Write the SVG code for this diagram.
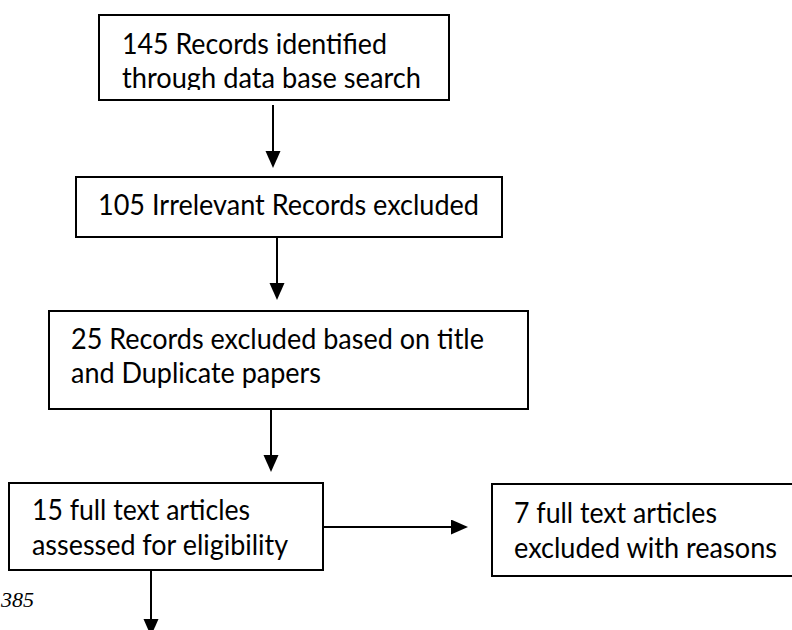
<svg xmlns="http://www.w3.org/2000/svg" width="792" height="630" viewBox="0 0 792 630">
<style>
.box{fill:#fff;stroke:#000;stroke-width:2}
.t{font-family:Lato,"Open Sans",sans-serif;font-size:28px;fill:#000}
.c{stroke:#000;stroke-width:2;fill:none}
.pg{font-family:"Liberation Serif",serif;font-style:italic;font-size:22px;fill:#000}
</style>
<defs>
<marker id="ah" markerUnits="userSpaceOnUse" markerWidth="18" markerHeight="16" refX="0" refY="7.5" orient="auto">
<path d="M0,0 L17,7.5 L0,15 z" fill="#000"/>
</marker>
<clipPath id="clip1"><rect x="99" y="15" width="350" height="75"/></clipPath>
<clipPath id="clip4"><rect x="9" y="483" width="314" height="77"/></clipPath>
</defs>
<rect width="792" height="630" fill="#fff"/>
<g id="n1">
<rect class="box" x="99" y="15" width="350" height="85"/>
<g clip-path="url(#clip1)">
<text class="t" x="122" y="54" textLength="265" lengthAdjust="spacingAndGlyphs">145 Records identified</text>
<text class="t" x="122" y="88" textLength="299" lengthAdjust="spacingAndGlyphs">through data base search</text>
</g>
</g>
<g id="n2">
<rect class="box" x="76" y="177" width="426" height="60"/>
<text class="t" x="98" y="215" textLength="381" lengthAdjust="spacingAndGlyphs">105 Irrelevant Records excluded</text>
</g>
<g id="n3">
<rect class="box" x="49" y="311" width="479" height="98"/>
<text class="t" x="71" y="349" textLength="413" lengthAdjust="spacingAndGlyphs">25 Records excluded based on title</text>
<text class="t" x="71" y="383" textLength="250" lengthAdjust="spacingAndGlyphs">and Duplicate papers</text>
</g>
<g id="n4">
<rect class="box" x="9" y="483" width="314" height="87"/>
<g clip-path="url(#clip4)">
<text class="t" x="32" y="520" textLength="218" lengthAdjust="spacingAndGlyphs">15 full text articles</text>
<text class="t" x="32" y="555" textLength="256" lengthAdjust="spacingAndGlyphs">assessed for eligibility</text>
</g>
</g>
<g id="n5">
<rect class="box" x="492" y="484" width="320" height="92"/>
<text class="t" x="514" y="523" textLength="203" lengthAdjust="spacingAndGlyphs">7 full text articles</text>
<text class="t" x="514" y="558" textLength="263" lengthAdjust="spacingAndGlyphs">excluded with reasons</text>
</g>
<g id="connectors">
<line class="c" x1="273" y1="105" x2="273" y2="151" marker-end="url(#ah)"/>
<line class="c" x1="277" y1="237" x2="277" y2="283" marker-end="url(#ah)"/>
<line class="c" x1="271" y1="409" x2="271" y2="455" marker-end="url(#ah)"/>
<line class="c" x1="323" y1="527" x2="451" y2="527" marker-end="url(#ah)"/>
<line class="c" x1="151" y1="570" x2="151" y2="619" marker-end="url(#ah)"/>
</g>
<text class="pg" x="1" y="607">385</text>
</svg>
